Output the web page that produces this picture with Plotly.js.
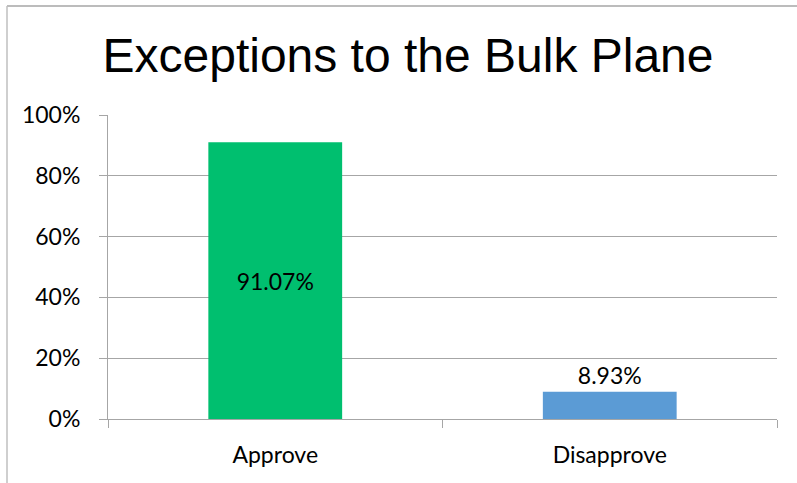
<!DOCTYPE html>
<html>
<head>
<meta charset="utf-8">
<script src="https://cdn.plot.ly/plotly-3.0.1.min.js"></script>
<style>
  html, body { margin: 0; padding: 0; background: #ffffff; }
  #chart { width: 797px; height: 483px; }
</style>
</head>
<body>
<div id="chart"></div>
<script>
const categories = ['Approve', 'Disapprove'];
const values = [91.07, 8.93];
const barColors = ['#00BF6F', '#5B9BD5'];
const labelPositions = ['inside', 'outside'];
const yTickValues = [0, 20, 40, 60, 80, 100];
const titleText = 'Exceptions to the Bulk Plane';

const tickFont = { family: 'Lato, "Liberation Sans", sans-serif', size: 23, color: '#000000' };
const gridColor = '#A6A6A6';

const trace = {
  type: 'bar',
  x: categories,
  y: values,
  marker: { color: barColors, line: { width: 0 } },
  text: values.map(v => v.toFixed(2) + '%'),
  texttemplate: '%{text}',
  textposition: labelPositions,
  insidetextanchor: 'middle',
  constraintext: 'none',
  textfont: { family: tickFont.family, size: 23, color: '#000000' },
  cliponaxis: false,
  hoverinfo: 'none'
};

const W = 797, H = 483;
const L = 108, R = 777, T = 115, B = 419;
const px2x = x => (x - L) / (R - L);
const px2y = y => (B - y) / (B - T);

const layout = {
  width: W,
  height: H,
  margin: { l: L, r: W - R, t: T, b: H - B, pad: 0 },
  paper_bgcolor: '#ffffff',
  plot_bgcolor: '#ffffff',
  showlegend: false,
  bargap: 0.6,
  title: {
    text: titleText,
    font: { family: '"Liberation Sans", Arial, sans-serif', size: 48, color: '#000000' },
    x: 408 / W,
    xref: 'container',
    xanchor: 'center',
    y: 1 - 55 / H,
    yref: 'container',
    yanchor: 'middle'
  },
  xaxis: {
    type: 'category',
    showline: true,
    linecolor: gridColor,
    linewidth: 1,
    ticks: 'outside',
    tickson: 'boundaries',
    ticklen: 8,
    tickcolor: gridColor,
    tickwidth: 1,
    showgrid: false,
    tickfont: tickFont,
    ticklabelstandoff: 15,
    fixedrange: true
  },
  yaxis: {
    range: [0, 100],
    tickvals: yTickValues,
    ticktext: yTickValues.map(v => v + '%'),
    showline: true,
    linecolor: gridColor,
    linewidth: 1,
    ticks: 'outside',
    ticklen: 8,
    tickcolor: gridColor,
    tickwidth: 1,
    showgrid: true,
    gridcolor: gridColor,
    gridwidth: 1,
    zeroline: false,
    tickfont: tickFont,
    ticklabelstandoff: 14,
    fixedrange: true
  },
  shapes: [
    { type: 'line', xref: 'paper', yref: 'paper', x0: px2x(7), x1: px2x(797), y0: px2y(6), y1: px2y(6),
      line: { color: '#A6A6A6', width: 1.5 } },
    { type: 'line', xref: 'paper', yref: 'paper', x0: px2x(7), x1: px2x(7), y0: px2y(6), y1: px2y(483),
      line: { color: '#BFBFBF', width: 1.5 } }
  ]
};

Plotly.newPlot('chart', [trace], layout, { displayModeBar: false, staticPlot: true });
</script>
</body>
</html>
